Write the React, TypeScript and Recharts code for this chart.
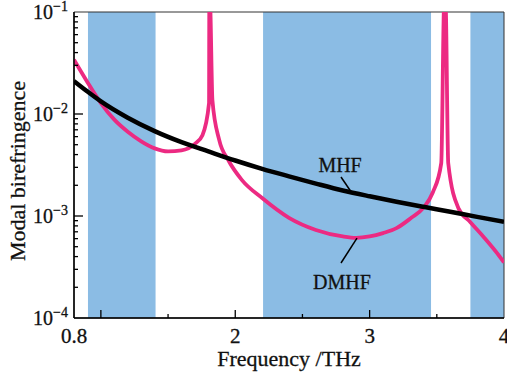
import React from "react";
import {
  ComposedChart,
  Line,
  XAxis,
  YAxis,
  ReferenceArea,
  ReferenceLine,
  ReferenceDot,
} from "recharts";

const FONT = "Liberation Serif";
const PINK = "#EC2A82";
const BLUE = "#8BBCE4";

// MHF curve (frequency THz, modal birefringence)
const mhfFreq = [0.8, 0.9, 1.0, 1.2, 1.4, 1.6, 1.8, 2.0, 2.2, 2.4, 2.6, 2.8, 3.0, 3.2, 3.4, 3.6, 3.8, 4.0];
const mhfVal = [0.021, 0.0166, 0.0133, 0.0092, 0.0068, 0.0053, 0.0043, 0.0035, 0.0029, 0.00245, 0.00208, 0.00178, 0.00156, 0.00138, 0.00123, 0.0011, 0.00098, 0.00088];

// DMHF curve
const dmhfFreq = [0.8, 0.9, 1.0, 1.1, 1.2, 1.3, 1.4, 1.5, 1.6, 1.7, 1.756, 1.805, 1.807, 1.812, 1.83, 1.88, 1.95, 2.05, 2.2, 2.4, 2.6, 2.8, 2.9, 3.0, 3.1, 3.2, 3.31, 3.4, 3.47, 3.533, 3.555, 3.565, 3.585, 3.66, 3.75, 3.85, 3.95, 4.0];
const dmhfVal = [0.034, 0.0205, 0.0128, 0.0088, 0.0067, 0.0054, 0.0046, 0.0043, 0.0044, 0.0051, 0.0062, 0.0128, 0.12, 0.12, 0.0137, 0.0056, 0.0035, 0.00225, 0.0015, 0.00096, 0.00073, 0.00063, 0.00061, 0.00063, 0.00068, 0.00076, 0.00096, 0.0012, 0.0017, 0.0033, 0.12, 0.12, 0.0033, 0.0012, 0.00087, 0.00062, 0.00043, 0.00035];

// shaded bands
const bandStart = [0.904, 2.207, 3.75];
const bandEnd = [1.407, 3.457, 4.0];

const xTicks = [0.8, 1, 1.5, 2, 2.5, 3, 3.5, 4];
const xLabels = [0.8, 2, 3, 4];
const xMajor = [1, 2, 3];
const yTicks = [
  1e-4, 2e-4, 3e-4, 4e-4, 5e-4, 6e-4, 7e-4, 8e-4, 9e-4,
  1e-3, 2e-3, 3e-3, 4e-3, 5e-3, 6e-3, 7e-3, 8e-3, 9e-3,
  1e-2, 2e-2, 3e-2, 4e-2, 5e-2, 6e-2, 7e-2, 8e-2, 9e-2,
  1e-1,
];

const mhfData = mhfFreq.map((f, i) => ({ f, v: mhfVal[i] }));
const dmhfData = dmhfFreq.map((f, i) => ({ f, v: dmhfVal[i] }));

const isDecade = (v: number) => Math.abs(Math.log10(v) - Math.round(Math.log10(v))) < 1e-6;

const TXT = { fontFamily: FONT, fill: "#111", stroke: "#111", strokeWidth: 0.3 };

const XTick = (props: any) => {
  const { x, y, payload } = props;
  const v = payload.value;
  const len = xMajor.includes(v) ? 8 : v === 0.8 || v === 4 ? 0 : 4;
  return (
    <g>
      {len > 0 && <line x1={x} y1={y} x2={x} y2={y - len} stroke="#000" strokeWidth={1.3} />}
      {xLabels.includes(v) && (
        <text x={x} y={y + 25} textAnchor="middle" fontSize={21} {...TXT}>
          {String(v)}
        </text>
      )}
    </g>
  );
};

const YTick = (props: any) => {
  const { x, y, payload } = props;
  const v = payload.value;
  const dec = isDecade(v);
  const exp = Math.round(Math.log10(v));
  const len = dec ? 9 : 4;
  const showLine = !(v === 1e-4 || v === 1e-1);
  return (
    <g>
      {showLine && <line x1={x} y1={y} x2={x + len} y2={y} stroke="#000" strokeWidth={1.3} />}
      {dec && (
        <text x={x - 6} y={y + 7} textAnchor="end" fontSize={20} {...TXT}>
          <tspan>10</tspan>
          <tspan dy={-8} fontSize={14}>{"\u2212" + Math.abs(exp)}</tspan>
        </text>
      )}
    </g>
  );
};

const YLabel = (props: any) => {
  const vb = props.viewBox || { x: 14, y: 12, width: 60, height: 306 };
  const cx = vb.x + 3;
  const cy = vb.y + vb.height / 2 + 6;
  return (
    <text
      x={cx}
      y={cy}
      transform={`rotate(-90, ${cx}, ${cy})`}
      textAnchor="middle"
      dominantBaseline="central"
      fontSize={22}
      {...TXT}
    >
      Modal birefringence
    </text>
  );
};

const XLabel = (props: any) => {
  const vb = props.viewBox || { x: 74, y: 318, width: 430, height: 50 };
  return (
    <text x={vb.x + vb.width / 2} y={vb.y + 48} textAnchor="middle" fontSize={22} {...TXT}>
      Frequency /THz
    </text>
  );
};

const TextMark = (label: string) => (p: any) => (
  <text x={p.cx} y={p.cy + 7} textAnchor="middle" fontSize={20} {...TXT}>
    {label}
  </text>
);

export default function App() {
  return (
    <div style={{ position: "absolute", left: 0, top: 0, background: "#fff" }}>
      <ComposedChart
        width={507}
        height={373}
        margin={{ top: 12, right: 3, bottom: 5, left: 14 }}
      >
        {bandStart.map((s, i) => (
          <ReferenceArea
            key={i}
            x1={s}
            x2={bandEnd[i]}
            y1={1e-4}
            y2={1e-1}
            fill={BLUE}
            fillOpacity={1}
            stroke="none"
            ifOverflow="hidden"
          />
        ))}
        <XAxis
          dataKey="f"
          type="number"
          domain={[0.8, 4]}
          ticks={xTicks}
          allowDataOverflow
          height={50}
          tickSize={0}
          tickMargin={0}
          tick={<XTick />}
          axisLine={{ stroke: "#000", strokeWidth: 1.5 }}
          tickLine={false}
          interval={0}
          label={<XLabel />}
        />
        <YAxis
          dataKey="v"
          type="number"
          scale="log"
          domain={[1e-4, 1e-1]}
          ticks={yTicks}
          allowDataOverflow
          width={60}
          tickSize={0}
          tickMargin={0}
          tick={<YTick />}
          axisLine={{ stroke: "#000", strokeWidth: 1.5 }}
          tickLine={false}
          interval={0}
          label={<YLabel />}
        />
        <Line
          data={dmhfData}
          dataKey="v"
          type="monotoneX"
          stroke={PINK}
          strokeWidth={3.8}
          dot={false}
          isAnimationActive={false}
        />
        <Line
          data={mhfData}
          dataKey="v"
          type="monotoneX"
          stroke="#000"
          strokeWidth={4.5}
          dot={false}
          isAnimationActive={false}
        />
        <ReferenceLine
          segment={[{ x: 2.787, y: 0.00241 }, { x: 2.868, y: 0.00168 }]}
          stroke="#000"
          strokeWidth={1.5}
        />
        <ReferenceLine
          segment={[{ x: 2.906, y: 0.000608 }, { x: 2.787, y: 0.000346 }]}
          stroke="#000"
          strokeWidth={1.5}
        />
        <ReferenceDot x={2.78} y={0.00316} r={0} shape={TextMark("MHF")} />
        <ReferenceDot x={2.794} y={0.000225} r={0} shape={TextMark("DMHF")} />
        <ReferenceArea
          x1={0.8}
          x2={4}
          y1={1e-4}
          y2={1e-1}
          fill="none"
          stroke="#333"
          strokeWidth={1}
        />
      </ComposedChart>
    </div>
  );
}
